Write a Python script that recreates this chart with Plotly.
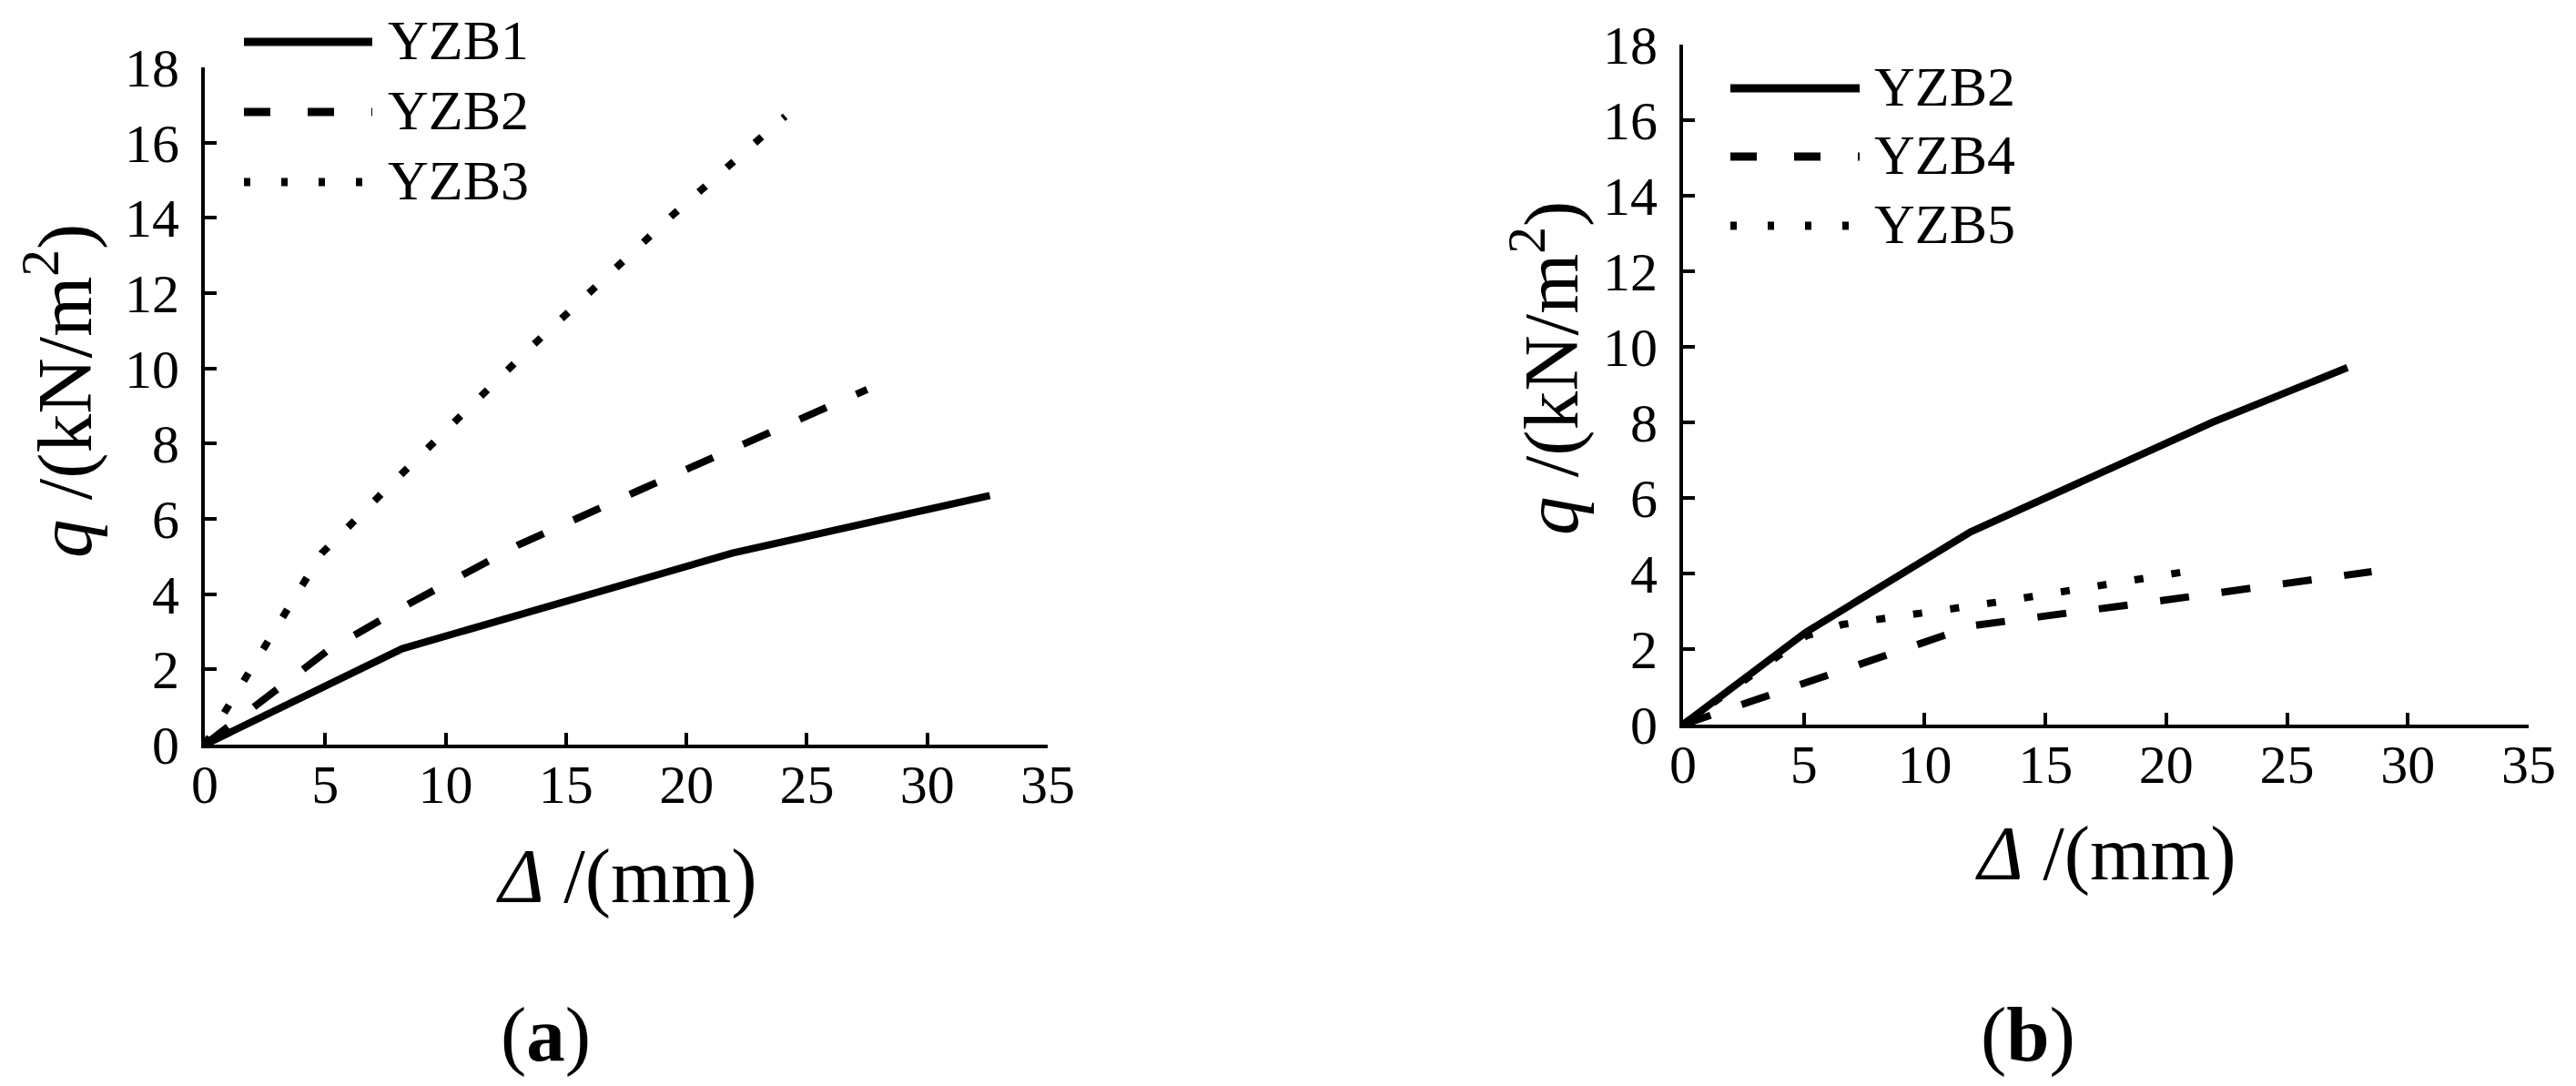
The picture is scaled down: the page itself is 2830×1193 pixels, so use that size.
import plotly.graph_objects as go

OFF = 8  # page body margin of the html page
W, H = 2830 - OFF, 1193 - OFF

# ---- data ----
# panel (a)
a_yzb1_x = [0, 8.2, 21.9, 32.6]
a_yzb1_y = [0, 2.55, 5.09, 6.62]
a_yzb2_x = [0, 2.0, 5.1, 8.5, 13.0, 18.0, 23.0, 27.5]
a_yzb2_y = [0, 0.98, 2.5, 3.75, 5.3, 6.75, 8.15, 9.44]
a_yzb3_x = [0, 4.85, 8.1, 13.6, 19.4, 24.1]
a_yzb3_y = [0, 5.08, 7.15, 10.6, 14.06, 16.7]
# panel (b)
b_yzb2_x = [0, 5.1, 11.9, 21.9, 27.5]
b_yzb2_y = [0, 2.45, 5.1, 8.0, 9.45]
b_yzb4_x = [0, 12.0, 20.0, 28.5]
b_yzb4_y = [0, 2.62, 3.3, 4.05]
b_yzb5_x = [0, 5.1, 6.6, 13.3, 20.6]
b_yzb5_y = [0, 2.35, 2.65, 3.27, 4.03]

x_ticks = [0, 5, 10, 15, 20, 25, 30, 35]
y_ticks = [0, 2, 4, 6, 8, 10, 12, 14, 16, 18]
legend_a = ["YZB1", "YZB2", "YZB3"]
legend_b = ["YZB2", "YZB4", "YZB5"]

FONT = "Liberation Serif"
SOLID = "solid"
DASH = "32px,36px"
DOT = "10px,31px"
LW = 8

def px_x(p):
    return (p - OFF) / W

def px_y(p):
    return 1 - (p - OFF) / H

fig = go.Figure()

for xs, ys, dash in [(a_yzb1_x, a_yzb1_y, SOLID), (a_yzb2_x, a_yzb2_y, DASH), (a_yzb3_x, a_yzb3_y, DOT)]:
    fig.add_trace(go.Scatter(x=xs, y=ys, mode="lines", xaxis="x", yaxis="y", showlegend=False,
                             line=dict(color="black", width=LW, dash=dash)))
for xs, ys, dash in [(b_yzb2_x, b_yzb2_y, SOLID), (b_yzb4_x, b_yzb4_y, DASH), (b_yzb5_x, b_yzb5_y, DOT)]:
    fig.add_trace(go.Scatter(x=xs, y=ys, mode="lines", xaxis="x2", yaxis="y2", showlegend=False,
                             line=dict(color="black", width=LW, dash=dash)))

axis_common = dict(showgrid=False, zeroline=False, showline=True, linecolor="black", linewidth=4,
                   ticks="inside", ticklen=13, tickwidth=4, tickcolor="black", automargin=False,
                   tickfont=dict(family=FONT, size=60, color="black"), fixedrange=True)

fig.update_layout(
    width=W, height=H, margin=dict(l=0, r=0, t=0, b=0, pad=0), autosize=False,
    paper_bgcolor="white", plot_bgcolor="white", showlegend=False,
    xaxis=dict(domain=[px_x(225), px_x(1151)], range=[0, 35], tickvals=x_ticks, anchor="y",
               ticklabelstandoff=-12, **axis_common),
    yaxis=dict(domain=[px_y(818), px_y(74)], range=[0, 18], tickvals=y_ticks, anchor="x",
               ticklabelstandoff=12, **axis_common),
    xaxis2=dict(domain=[px_x(1849), px_x(2778)], range=[0, 35], tickvals=x_ticks, anchor="y2",
                ticklabelstandoff=-12, **axis_common),
    yaxis2=dict(domain=[px_y(796), px_y(49)], range=[0, 18], tickvals=y_ticks, anchor="x2",
                ticklabelstandoff=12, **axis_common),
)

shapes = []
annotations = []

def legend(x0, x1, ys, labels, tx):
    for yy, lab, dash in zip(ys, labels, [SOLID, "29px,41px", "7px,34px"]):
        shapes.append(dict(type="line", xref="paper", yref="paper", x0=px_x(x0), x1=px_x(x1),
                           y0=px_y(yy), y1=px_y(yy), line=dict(color="black", width=9, dash=dash)))
        annotations.append(dict(text=lab, xref="paper", yref="paper", x=px_x(tx), y=px_y(yy - 2),
                                xanchor="left", yanchor="middle", showarrow=False,
                                font=dict(family=FONT, size=62, color="black")))

legend(268, 409, [46, 123, 200], legend_a, 424)
legend(1901, 2043, [97, 172, 248], legend_b, 2057)

def text(t, x, y, size=85, angle=0):
    annotations.append(dict(text=t, xref="paper", yref="paper", x=px_x(x), y=px_y(y),
                            xanchor="center", yanchor="middle", showarrow=False, textangle=angle,
                            font=dict(family=FONT, size=size, color="black")))

xt = "<i>Δ</i> /(mm)"
yt = "<i>q</i> /(kN/m<sup>2</sup>)"
text(xt, 688, 962)
text(xt, 2313, 937)
text(yt, 65, 430, angle=-90)
text(yt, 1698, 405, angle=-90)
text("(<b>a</b>)", 599, 1136)
text("(<b>b</b>)", 2228, 1136)

fig.update_layout(shapes=shapes, annotations=annotations)
fig.write_html("out.html")
